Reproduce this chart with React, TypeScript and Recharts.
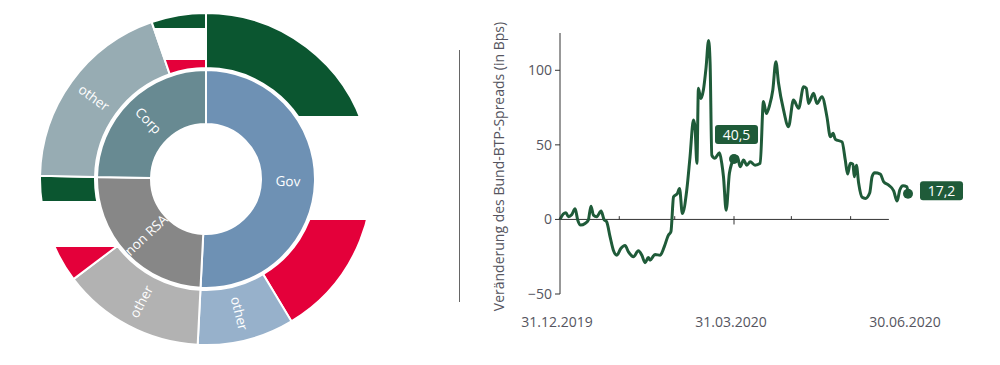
import React from 'react';
import {
  Cell,
  Line,
  LineChart,
  Pie,
  PieChart,
  ReferenceDot,
  ReferenceLine,
  XAxis,
  YAxis,
} from 'recharts';

// inner ring: asset classes (clockwise from 12 o'clock)
const classNames = ['Gov', 'non RSA', 'Corp'];
const classShares = [50.8, 24.5, 24.7];

// outer ring: split of each class, 'BTP' = Italian part (flag coloured, no label)
const partNames = ['BTP', 'other', 'other', 'BTP', 'other', 'BTP'];
const partShares = [41.4, 9.4, 13.9, 10.6, 19.4, 5.3];

// spread change Bund-BTP, x = days since 31.12.2019
const days = [
  0, 1.7, 3.1, 4.4, 6.1, 7.9, 9.3, 10.8, 13.1, 14.8, 16.2, 17.5, 19.2, 21.5, 23,
  24.4, 26.2, 27.9, 29.7, 31.8, 34, 35.8, 38.4, 41, 42.8, 44.5, 46.2, 47.1, 49.7,
  52.4, 54.5, 56.7, 58, 59.4, 61.4, 62.5, 64, 66.3, 68, 69.8, 70.6, 71.6, 72.4,
  73.6, 75, 76.4, 77.7, 78.5, 79.4, 81, 83.4, 84.6, 85.5, 86.9, 88.6, 91, 92.8,
  94.2, 96, 97.7, 99.5, 102, 104.7, 106.4, 107.9, 109.6, 111.3, 112.9, 114.3,
  116.9, 119.5, 122.1, 124.8, 127.4, 128.8, 130, 132.6, 134.4, 137, 139.6, 141.4,
  142.8, 144, 147.5, 149.2, 150.4, 151.8, 153.2, 153.9, 155, 156.2, 158, 159.7,
  162, 163.2, 164.6, 167.5, 169.3, 171.9, 174.5, 176.3, 177.7, 179.4, 181.5, 182,
];
const spread = [
  0, 3.6, 4.5, 1.8, 3.1, 7.1, -0.5, -3.8, -2.7, -0.5, 8.9, 2.9, 1.8, 5.6, 0,
  -1.6, -11.7, -20.6, -24, -19.5, -17.5, -21.8, -25, -21, -24, -29, -25.6, -27.3, -23.5,
  -24, -18.4, -10.5, -8.3, 15.2, 17.4, 20.8, 4, 19.7, 42, 66.6, 62, 37.6, 88,
  81, 86.8, 102, 120, 104.7, 43, 41, 44.7, 37.6, 28.6, 6.2, 30.9, 40.5, 42,
  35.3, 39.8, 36.4, 38.6, 36.4, 37.6, 79, 71, 76.5, 86.8, 105.8, 91.3,
  73.4, 62.2, 80, 74.5, 89, 88, 77.8, 84.6, 77.8, 82.3, 68.9, 55.4,
  57.7, 53.7, 52, 39.8, 30.4, 37.6, 37, 28.6, 36.4, 24.2, 14.8, 14.1,
  17.9, 28.6, 31.3, 30.4, 25.2, 23, 19.2, 12.3, 19.7, 22.5, 21.9, 17.2,
];

const dateTicks = [0, 91, 182];
const dateLabels = ['31.12.2019', '31.03.2020', '30.06.2020'];
const monthTicks = [31, 60, 91, 121, 152];
const axisEndDay = 172;
const yTicks = [-50, 0, 50, 100];

const markedDays = [91, 182];
const markedValues = [40.5, 17.2];
const markedTexts = ['40,5', '17,2'];

const GREEN = '#0b5630';
const RED = '#e4003a';
const LINE = '#1f5b39';
const TXT = '#555560';
const FONT = '"Open Sans", sans-serif';
const classColors = ['#6e91b4', '#878787', '#688a92'];
const partColors = ['url(#flagGov)', '#97b1cb', '#b2b2b2', 'url(#flagNon)', '#97acb3', 'url(#flagCorp)'];

const classData = classNames.map((name, i) => ({ name, value: classShares[i] }));
const partData = partNames.map((name, i) => ({ name, value: partShares[i] }));
const lineData = days.map((day, i) => ({ day, spread: spread[i] }));

const RAD = Math.PI / 180;

function ringLabel(props: any) {
  const { cx, cy, midAngle, innerRadius, outerRadius, name } = props;
  if (name === 'BTP') return null;
  const r = (innerRadius + outerRadius) / 2;
  const x = cx + r * Math.cos(-midAngle * RAD);
  const y = cy + r * Math.sin(-midAngle * RAD);
  let a = -midAngle;
  a = (((a % 360) + 540) % 360) - 180;
  if (a > 90) a -= 180;
  if (a < -90) a += 180;
  return (
    <text
      x={x}
      y={y}
      transform={`rotate(${a} ${x} ${y})`}
      textAnchor="middle"
      dominantBaseline="central"
      fill="#fff"
      fontSize={13.5}
      fontFamily={FONT}
    >
      {name}
    </text>
  );
}

function Flag({ id, g, r }: { id: string; g: number; r: number }) {
  return (
    <linearGradient id={id} x1="0" y1="0" x2="0" y2="1">
      <stop offset={g} stopColor={GREEN} />
      <stop offset={g} stopColor="#fff" />
      <stop offset={r} stopColor="#fff" />
      <stop offset={r} stopColor={RED} />
    </linearGradient>
  );
}

function ValueBox({ x, y, text }: { x: number; y: number; text: string }) {
  return (
    <g>
      <rect x={x - 21.5} y={y - 9.5} width={43} height={19} rx={3} fill={LINE} />
      <text
        x={x}
        y={y}
        textAnchor="middle"
        dominantBaseline="central"
        fill="#fff"
        fontSize={14}
        fontFamily={FONT}
      >
        {text}
      </text>
    </g>
  );
}

function markAbove(text: string) {
  return (p: any) => (
    <g>
      <circle cx={p.cx} cy={p.cy} r={5} fill={LINE} />
      <ValueBox x={p.cx + 2.5} y={p.cy - 24.5} text={text} />
    </g>
  );
}

function markRight(text: string) {
  return (p: any) => (
    <g>
      <circle cx={p.cx} cy={p.cy} r={5} fill={LINE} />
      <ValueBox x={p.cx + 33.5} y={p.cy - 3} text={text} />
    </g>
  );
}

function AxisTitle(props: any) {
  const vb = props.viewBox || { x: 60, y: 33, width: 60, height: 261 };
  const x = vb.x - 2;
  const y = vb.y + vb.height / 2 + 3;
  return (
    <text
      x={x}
      y={y}
      transform={`rotate(-90 ${x} ${y})`}
      textAnchor="middle"
      dominantBaseline="central"
      fill={TXT}
      fontSize={14}
      fontFamily={FONT}
    >
      Veränderung des Bund-BTP-Spreads (in Bps)
    </text>
  );
}

export default function App() {
  return (
    <div
      style={{
        position: 'absolute',
        left: 0,
        top: 0,
        width: 1000,
        height: 365,
        background: '#fff',
        fontFamily: FONT,
      }}
    >
      <div style={{ position: 'absolute', left: 0, top: 0 }}>
        <PieChart width={420} height={365} margin={{ top: 0, right: 0, bottom: 0, left: 0 }}>
          <defs>
            <Flag id="flagGov" g={0.335} r={0.67} />
            <Flag id="flagNon" g={0.245} r={0.685} />
            <Flag id="flagCorp" g={0.25} r={0.77} />
          </defs>
          <Pie
            data={classData}
            dataKey="value"
            cx={206}
            cy={179}
            startAngle={90}
            endAngle={-270}
            innerRadius={55}
            outerRadius={109}
            stroke="#fff"
            strokeWidth={2}
            label={ringLabel}
            labelLine={false}
            isAnimationActive={false}
          >
            {classData.map((d, i) => (
              <Cell key={i} fill={classColors[i]} />
            ))}
          </Pie>
          <Pie
            data={partData}
            dataKey="value"
            cx={206}
            cy={179}
            startAngle={90}
            endAngle={-270}
            innerRadius={111}
            outerRadius={166}
            stroke="#fff"
            strokeWidth={2}
            label={ringLabel}
            labelLine={false}
            isAnimationActive={false}
          >
            {partData.map((d, i) => (
              <Cell key={i} fill={partColors[i]} />
            ))}
          </Pie>
        </PieChart>
      </div>

      <div
        style={{
          position: 'absolute',
          left: 459,
          top: 50,
          width: 1,
          height: 252,
          background: '#666',
        }}
      />

      <div style={{ position: 'absolute', left: 440, top: 0 }}>
        <LineChart width={560} height={365} data={lineData} margin={{ top: 33, right: 92, bottom: 31, left: 60 }}>
          <XAxis
            dataKey="day"
            type="number"
            domain={[0, 182]}
            ticks={dateTicks}
            interval={0}
            tickFormatter={(d: number) => dateLabels[dateTicks.indexOf(d)]}
            axisLine={false}
            tickLine={false}
            tickSize={0}
            tickMargin={23}
            height={40}
            tick={{ fill: TXT, fontSize: 14, dx: -3, fontFamily: FONT }}
          />
          <YAxis
            type="number"
            domain={[-50, 125]}
            ticks={yTicks}
            interval={0}
            width={60}
            axisLine={{ stroke: '#333' }}
            tickLine={{ stroke: '#333' }}
            tickSize={5}
            tickMargin={3}
            tick={{ fill: TXT, fontSize: 14, fontFamily: FONT }}
            tickFormatter={(v: number) => (v < 0 ? '\u2212' + Math.abs(v) : String(v))}
            label={<AxisTitle />}
          />
          <ReferenceLine
            segment={[
              { x: 0, y: 0 },
              { x: axisEndDay, y: 0 },
            ]}
            stroke="#333"
          />
          {monthTicks.map((d) => (
            <ReferenceLine
              key={d}
              segment={[
                { x: d, y: d === 91 ? -3.4 : 0 },
                { x: d, y: 2.2 },
              ]}
              stroke="#333"
            />
          ))}
          <Line
            type="monotone"
            dataKey="spread"
            stroke={LINE}
            strokeWidth={3}
            strokeLinejoin="round"
            dot={false}
            isAnimationActive={false}
          />
          {markedDays.map((d, i) => (
            <ReferenceDot
              key={d}
              x={d}
              y={markedValues[i]}
              r={5}
              shape={i === 0 ? markAbove(markedTexts[i]) : markRight(markedTexts[i])}
            />
          ))}
        </LineChart>
      </div>
    </div>
  );
}
